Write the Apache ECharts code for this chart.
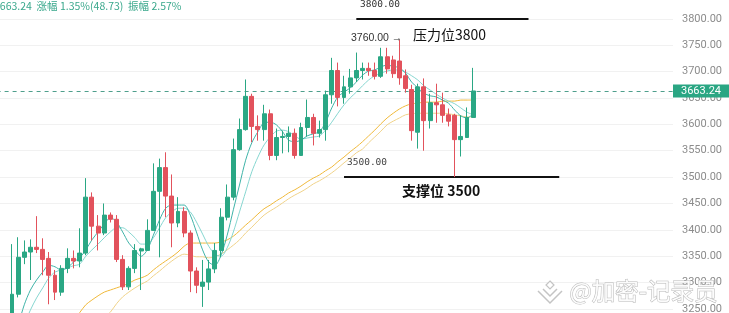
<!DOCTYPE html>
<html><head><meta charset="utf-8">
<script src="https://cdn.jsdelivr.net/npm/echarts@6/dist/echarts.min.js"></script>
<style>html,body{margin:0;padding:0;background:#fff}#c{width:729px;height:313px}</style>
</head><body><div id="c"></div>
<script>
// ---- data ----
const slotCount = 110;               // visible category slots (incl. empty future space)
const leading = ['-', '-'];          // two candles below the visible price range
// [open, close, low, high]
const candles = [
 [3235,3278,3225,3373],[3278,3348,3272,3386],[3348,3358,3335,3380],[3358,3367,3305,3382],
 [3367,3363,3356,3426],[3363,3344,3314,3384],[3346,3314,3259,3358],[3314,3282,3267,3324],
 [3282,3327,3275,3333],[3327,3346,3318,3365],[3346,3341,3327,3361],[3341,3356,3329,3403],
 [3356,3462,3352,3498],[3462,3407,3380,3471],[3407,3394,3361,3428],[3394,3428,3390,3450],
 [3428,3420,3414,3433],[3420,3344,3339,3428],[3344,3292,3286,3352],[3292,3327,3286,3331],
 [3327,3361,3318,3373],[3360,3364,3286,3366],[3361,3399,3361,3420],[3399,3473,3399,3526],
 [3473,3518,3348,3535],[3518,3464,3424,3547],[3464,3413,3367,3505],[3413,3435,3405,3462],
 [3435,3394,3386,3443],[3394,3322,3282,3399],[3322,3295,3280,3329],[3293,3301,3254,3343],
 [3301,3326,3286,3343],[3326,3361,3318,3375],[3361,3424,3348,3441],[3424,3462,3418,3486],
 [3462,3552,3456,3573],[3552,3590,3550,3611],[3590,3653,3588,3685],[3653,3596,3566,3658],
 [3596,3590,3569,3617],[3590,3620,3569,3637],[3620,3541,3532,3628],[3541,3575,3532,3592],
 [3575,3577,3545,3588],[3577,3583,3547,3596],[3583,3541,3535,3592],[3541,3594,3545,3603],
 [3594,3613,3577,3647],[3613,3583,3560,3620],[3583,3590,3575,3607],[3590,3656,3569,3664],
 [3656,3702,3639,3726],[3702,3651,3634,3717],[3651,3671,3639,3692],[3671,3688,3658,3705],
 [3688,3702,3680,3736],[3702,3706,3685,3717],[3706,3702,3692,3717],[3702,3691,3685,3717],
 [3691,3728,3688,3745],[3728,3705,3696,3745],[3722,3696,3688,3730],[3720,3688,3675,3760],
 [3692,3668,3660,3704],[3666,3588,3569,3675],[3585,3671,3554,3677],[3671,3607,3550,3687],
 [3607,3641,3592,3658],[3641,3637,3603,3677],[3637,3617,3603,3660],[3618,3606,3596,3630],
 [3617,3571,3500,3620],[3571,3577,3539,3617],[3575,3613,3575,3632],[3613,3663.24,3613,3707]
];
const ma5 = [3191,3220,3258,3286,3305,3320,3333,3330,3324,3328,3339,3347,3362,3381,3396,3411,
 3423,3415,3396,3375,3362,3350,3362,3390,3419,3441,3447,3447,3447,3428,3396,3362,3339,3333,3352,
 3390,3438,3485,3532,3565,3586,3603,3604,3599,3586,3570,3567,3570,3578,3582,3586,3604,3631,3652,
 3661,3669,3680,3693,3701,3703,3709,3712,3710,3707,3697,3680,3669,3659,3654,3652,3646,3640,3627,
 3616,3612,3620];
const ma10 = [3153,3182,3220,3248,3271,3290,3309,3320,3324,3328,3332,3335,3350,3362,3373,3385,
 3396,3404,3404,3396,3385,3373,3373,3385,3404,3423,3434,3441,3441,3434,3415,3392,3369,3354,3350,
 3366,3396,3434,3472,3510,3538,3561,3576,3587,3589,3586,3578,3572,3574,3576,3578,3589,3604,3621,
 3637,3650,3661,3673,3684,3692,3697,3701,3703,3703,3699,3692,3684,3673,3665,3657,3650,3644,3639,
 3631,3623,3618];
const ma20 = ['-','-','-','-','-','-','-','-',3210,3220,3229,3243,3258,3267,3275,3282,3286,3290,
 3294,3299,3305,3309,3314,3324,3333,3341,3349,3358,3369,3375,3375,3375,3375,3375,3377,3381,3388,
 3398,3409,3419,3430,3440,3447,3455,3462,3470,3476,3483,3491,3498,3504,3512,3519,3529,3538,3548,
 3557,3567,3578,3589,3601,3612,3621,3629,3635,3639,3640,3642,3642,3642,3644,3644,3644,3646,3646,3646];
const ma30 = ['-','-','-','-','-','-','-','-','-','-','-','-','-',3210,3220,3233,3244,3260,3273,
 3282,3290,3297,3303,3313,3322,3332,3341,3349,3354,3352,3349,3349,3347,3349,3354,3362,3371,3381,
 3394,3405,3417,3428,3436,3443,3451,3459,3466,3472,3479,3487,3493,3500,3508,3517,3527,3536,3546,
 3553,3565,3576,3587,3599,3606,3612,3618,3620,3621,3621,3621,3621,3621,3620,3618,3616,3614,3614];
const lastPrice = 3663.24;
const resistance = {price: 3800, from: 58, to: 86};
const support = {price: 3500, from: 56, to: 91};
const yTicks = {min: 3200, max: 3850, step: 50};

// ---- build ----
const categories = Array.from({length: slotCount}, (_, i) => 'K' + i);
const pad = arr => leading.concat(arr);
const UP = '#2aa784', DOWN = '#e2525c';
const chart = echarts.init(document.getElementById('c'), null, {renderer: 'canvas'});
const lineS = (name, data, color) => ({
  name, type: 'line', data: pad(data), smooth: 0.3, symbol: 'none', silent: true,
  lineStyle: {width: 1, color}, z: 3
});
chart.setOption({
  animation: false,
  grid: {left: -3.4, right: 56, top: -7.6, bottom: -22.4, outerBoundsMode: 'none', containLabel: false},
  xAxis: {type: 'category', data: categories, boundaryGap: true,
    axisLine: {show: false}, axisTick: {show: false}, axisLabel: {show: false},
    splitLine: {show: false}},
  yAxis: {type: 'value', position: 'right', min: yTicks.min, max: yTicks.max, interval: yTicks.step,
    axisLine: {show: false}, axisTick: {show: false},
    axisLabel: {color: '#8c8c8c', fontSize: 11, margin: 9, fontFamily: 'Roboto, sans-serif',
      formatter: v => v.toFixed(2)},
    splitLine: {lineStyle: {color: '#f1f1f1'}}},
  series: [
    lineS('MA30', ma30, '#f0d38a'),
    lineS('MA20', ma20, '#f0b93a'),
    lineS('MA10', ma10, '#86d6d0'),
    lineS('MA5', ma5, '#3fb3a8'),
    {
      type: 'candlestick', data: pad(candles), barWidth: '72%', z: 5,
      itemStyle: {color: UP, color0: DOWN, borderColor: UP, borderColor0: DOWN, borderWidth: 1},
      markLine: {
        silent: true, symbol: ['none', 'none'], animation: false,
        data: [
          {yAxis: lastPrice,
           lineStyle: {type: [4, 4], color: '#4f9f8c', width: 1},
           label: {show: true, position: 'end', distance: 0, formatter: lastPrice.toFixed(2),
             color: '#fff', backgroundColor: '#2aa683', padding: [1, 9, 1, 8], fontSize: 11,
             fontFamily: 'Roboto, sans-serif'}},
          [{coord: [categories[resistance.from], resistance.price], lineStyle: {color: '#111', width: 2, type: 'solid'}, label: {show: false}},
           {coord: [categories[resistance.to], resistance.price]}],
          [{coord: [categories[support.from], support.price], lineStyle: {color: '#111', width: 2, type: 'solid'}, label: {show: false}},
           {coord: [categories[support.to], support.price]}]
        ]
      }
    }
  ],
  graphic: [
    {type: 'text', left: -6, top: 1, z: 10, style: {text: '3663.24  涨幅 1.35%(48.73)  振幅 2.57%',
      fill: '#3aa88c', font: '10.5px "Noto Sans CJK SC", sans-serif'}},
    {type: 'text', left: 360, top: 0, z: 10, style: {text: '3800.00', fill: '#333', font: '9.5px "DejaVu Sans Mono", monospace'}},
    {type: 'text', left: 351, top: 33, z: 10, style: {text: '3760.00 →', fill: '#333', font: '10.5px "Liberation Sans", sans-serif'}},
    {type: 'text', left: 413, top: 28, z: 10, style: {text: '压力位3800', fill: '#111', font: '14px "Noto Sans CJK SC", sans-serif'}},
    {type: 'text', left: 347, top: 158, z: 10, style: {text: '3500.00', fill: '#444', font: '9.5px "DejaVu Sans Mono", monospace'}},
    {type: 'text', left: 402, top: 184, z: 10, style: {text: '支撑位 3500', fill: '#111', font: 'bold 14px "Noto Sans CJK SC", sans-serif'}},
    {type: 'polyline', z: 20, shape: {points: [[538, 291], [550, 303], [562, 291]]}, style: {stroke: '#c4c4c4', fill: null, lineWidth: 1.5}},
    {type: 'polyline', z: 20, shape: {points: [[543, 289], [550, 296], [557, 289]]}, style: {stroke: '#c4c4c4', fill: null, lineWidth: 1.5}},
    {type: 'polygon', z: 20, shape: {points: [[550, 281], [554, 285], [550, 289], [546, 285]]}, style: {stroke: '#c4c4c4', fill: '#fff', lineWidth: 1.2}},
    {type: 'text', left: 569, top: 279, z: 20, style: {text: '@加密-记录员', fill: 'rgba(255,255,255,0.9)',
      stroke: '#b8b8b8', lineWidth: 1, font: '23.5px "Noto Sans CJK SC", sans-serif'}}
  ]
});
</script></body></html>
